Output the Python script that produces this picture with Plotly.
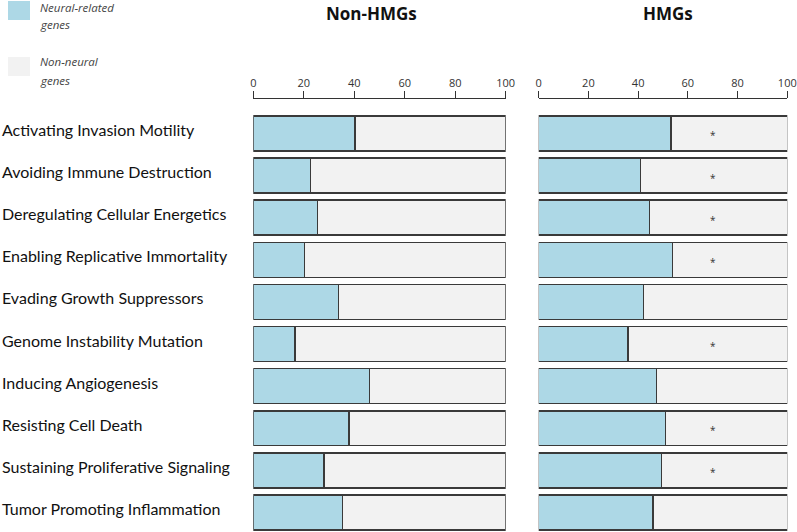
import plotly.graph_objects as go

categories = [
    "Activating Invasion Motility",
    "Avoiding Immune Destruction",
    "Deregulating Cellular Energetics",
    "Enabling Replicative Immortality",
    "Evading Growth Suppressors",
    "Genome Instability Mutation",
    "Inducing Angiogenesis",
    "Resisting Cell Death",
    "Sustaining Proliferative Signaling",
    "Tumor Promoting Inflammation",
]
non_hmg_neural = [40.2, 22.6, 25.5, 20.2, 33.7, 16.6, 46.0, 38.0, 28.1, 35.4]
hmg_neural = [53.3, 41.0, 44.6, 53.9, 42.2, 36.0, 47.4, 51.1, 49.3, 46.0]
hmg_significant = [True, True, True, True, False, True, False, True, True, False]
star_x = 70
tick_vals = [0, 20, 40, 60, 80, 100]
panel_titles = ["Non-HMGs", "HMGs"]
legend_lines = [["Neural-related", "genes"], ["Non-neural", "genes"]]

BLUE = "#ADD8E6"
GREY = "#F2F2F2"
EDGE = "#3a3a3a"

fig = go.Figure()

for neural, xa, ya in [(non_hmg_neural, "x", "y"), (hmg_neural, "x2", "y2")]:
    rest = [100 - v for v in neural]
    fig.add_trace(go.Bar(
        y=categories, x=neural, orientation="h", xaxis=xa, yaxis=ya,
        marker=dict(color=BLUE, line=dict(color=EDGE, width=1.5)),
        width=0.83, showlegend=False, hoverinfo="x+y",
    ))
    fig.add_trace(go.Bar(
        y=categories, x=rest, orientation="h", xaxis=xa, yaxis=ya,
        marker=dict(color=GREY, line=dict(color=EDGE, width=1.5)),
        width=0.83, showlegend=False, hoverinfo="x+y",
    ))

annotations = []
for cat, sig in zip(categories, hmg_significant):
    if sig:
        annotations.append(dict(x=star_x, y=cat, xref="x2", yref="y2", text="*",
                                showarrow=False, font=dict(size=10, color="#333"),
                                yshift=-2))
for cat in categories:
    annotations.append(dict(x=0.0, y=cat, xref="paper", yref="y", text=cat,
                            xanchor="left", showarrow=False, yshift=4,
                            font=dict(family="Lato", size=16, color="#111")))

# panel titles
annotations.append(dict(x=47, y=1, xref="x", yref="paper", text="<b>" + panel_titles[0] + "</b>",
                        showarrow=False, yanchor="top", yshift=0,
                        font=dict(family="Open Sans", size=17, color="#111")))
annotations.append(dict(x=52, y=1, xref="x2", yref="paper", text="<b>" + panel_titles[1] + "</b>",
                        showarrow=False, yanchor="top", yshift=0,
                        font=dict(family="Open Sans", size=17, color="#111")))

# legend (drawn manually)
shapes = [
    dict(type="rect", xref="paper", yref="paper", x0=8/797, x1=30/797,
         y0=1-20/532, y1=1-1/532, fillcolor=BLUE, line=dict(width=0)),
    dict(type="rect", xref="paper", yref="paper", x0=8/797, x1=30/797,
         y0=1-76/532, y1=1-57/532, fillcolor=GREY, line=dict(width=0)),
]
for lines, ycenters in zip(legend_lines, [(7, 25), (62, 81)]):
    for txt, yc in zip(lines, ycenters):
        annotations.append(dict(x=38/797, y=1-yc/532, xref="paper", yref="paper", text=txt,
                                showarrow=False, xanchor="left", yanchor="middle", align="left",
                                font=dict(family="Open Sans", size=11.5, color="#444", style="italic")))

axis_common = dict(
    range=[0, 100], tickvals=tick_vals, side="top", ticks="outside", ticklen=7,
    tickcolor="#333", showline=True, linecolor="#333", linewidth=1,
    showgrid=False, zeroline=False, fixedrange=True, automargin=False,
    tickfont=dict(family="Open Sans", size=11, color="#333"),
)
ydom = [0, 1 - 99/532]
yrange = [9.464, -0.819]

fig.update_layout(
    width=797, height=532,
    margin=dict(l=0, r=0, t=0, b=0, autoexpand=False),
    paper_bgcolor="white", plot_bgcolor="white",
    barmode="stack", bargap=0.17,
    xaxis=dict(domain=[253.3/797, 505.7/797], anchor="y", **axis_common),
    xaxis2=dict(domain=[538.7/797, 787.3/797], anchor="y2", **axis_common),
    yaxis=dict(domain=ydom, range=yrange, showticklabels=False, showgrid=False,
               zeroline=False, showline=False, ticks="", automargin=False),
    yaxis2=dict(domain=ydom, range=yrange, showticklabels=False, showgrid=False,
                zeroline=False, showline=False, ticks="", anchor="x2", automargin=False),
    annotations=annotations, shapes=shapes,
    showlegend=False,
)

fig.write_html("out.html", config={"displayModeBar": False},
               post_script="document.body.style.margin='0';")
